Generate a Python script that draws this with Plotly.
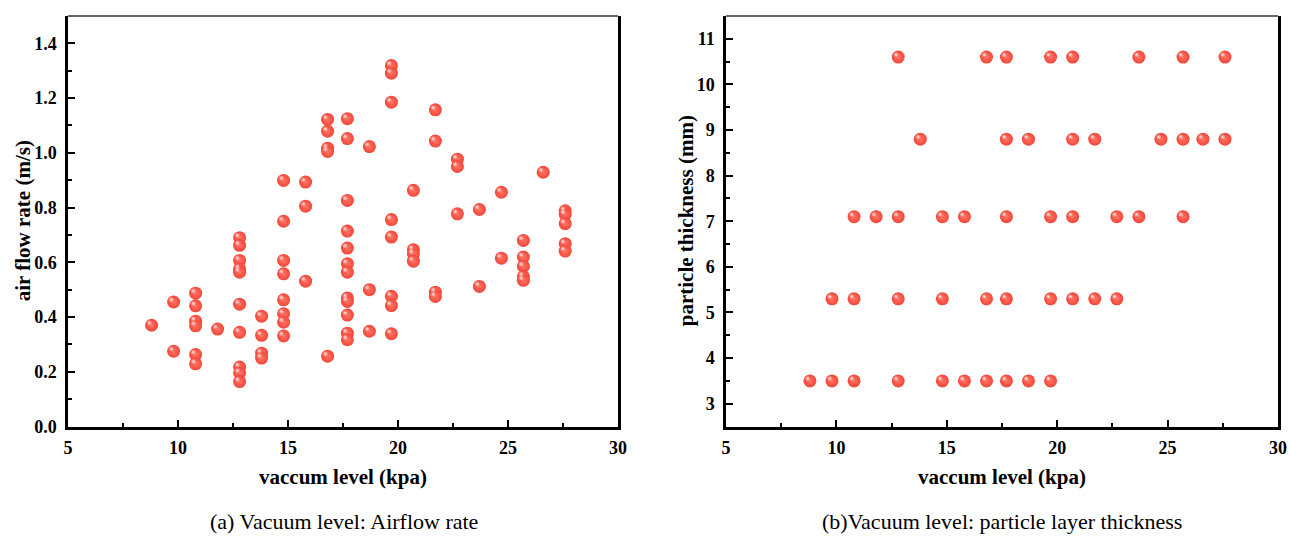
import plotly.graph_objects as go

# ---- data: (a) vacuum level vs air flow rate ----
vac_a = ([8.8] + [9.8] * 2 + [10.8] * 6 + [11.8] + [12.8] * 10 + [13.8] * 4 +
         [14.8] * 8 + [15.8] * 3 + [16.8] * 5 + [17.7] * 12 + [18.7] * 3 +
         [19.7] * 8 + [20.7] * 4 + [21.7] * 4 + [22.7] * 3 + [23.7] * 2 +
         [24.7] * 2 + [25.7] * 5 + [26.6] + [27.6] * 5)
airflow = [0.37,
           0.455, 0.275,
           0.487, 0.441, 0.385, 0.368, 0.263, 0.229,
           0.356,
           0.69, 0.662, 0.607, 0.576, 0.564, 0.447, 0.344, 0.217, 0.196, 0.164,
           0.403, 0.333, 0.268, 0.25,
           0.899, 0.75, 0.607, 0.558, 0.463, 0.412, 0.381, 0.331,
           0.893, 0.805, 0.531,
           1.122, 1.079, 1.017, 1.005, 0.257,
           1.125, 1.052, 0.826, 0.714, 0.652, 0.595, 0.564, 0.47, 0.457, 0.407, 0.341, 0.317,
           1.023, 0.5, 0.348,
           1.319, 1.291, 1.185, 0.756, 0.692, 0.476, 0.442, 0.339,
           0.863, 0.646, 0.631, 0.604,
           1.157, 1.043, 0.491, 0.475,
           0.977, 0.95, 0.777,
           0.793, 0.512,
           0.856, 0.615,
           0.68, 0.619, 0.585, 0.548, 0.534,
           0.929,
           0.788, 0.775, 0.741, 0.668, 0.641]

# ---- data: (b) vacuum level vs particle layer thickness ----
vac_106 = [12.8, 16.8, 17.7, 19.7, 20.7, 23.7, 25.7, 27.6]
vac_88 = [13.8, 17.7, 18.7, 20.7, 21.7, 24.7, 25.7, 26.6, 27.6]
vac_71 = [10.8, 11.8, 12.8, 14.8, 15.8, 17.7, 19.7, 20.7, 22.7, 23.7, 25.7]
vac_53 = [9.8, 10.8, 12.8, 14.8, 16.8, 17.7, 19.7, 20.7, 21.7, 22.7]
vac_35 = [8.8, 9.8, 10.8, 12.8, 14.8, 15.8, 16.8, 17.7, 18.7, 19.7]

vac_b = vac_106 + vac_88 + vac_71 + vac_53 + vac_35
thickness = ([10.6] * len(vac_106) + [8.8] * len(vac_88) + [7.1] * len(vac_71) +
             [5.3] * len(vac_53) + [3.5] * len(vac_35))

# axis settings
x_range = [5, 30]
ya_range = [0, 1.5]
yb_range = [2.5, 11.5]

W, H = 1290, 538
dom_xa = [68 / W, 618 / W]
dom_xb = [726 / W, 1278 / W]
dom_y = [(H - 426.5) / H, (H - 16) / H]

BALL = "#f34638"
BALL_CENTER = "#ff7466"
SIZE = 13
HL_SHIFT = 2.3  # highlight offset in pixels, up-left


def px_per_unit(dom, rng, total):
    return (dom[1] - dom[0]) * total / (rng[1] - rng[0])


def balls(xs, ys, xaxis, yaxis, dom_x, rng_x, rng_y):
    kx = px_per_unit(dom_x, rng_x, W)
    ky = px_per_unit(dom_y, rng_y, H)
    body = go.Scatter(
        x=xs, y=ys, mode="markers", xaxis=xaxis, yaxis=yaxis,
        marker=dict(size=SIZE, color=BALL, line=dict(width=0),
                    gradient=dict(type="radial", color=BALL_CENTER)),
        hoverinfo="x+y", showlegend=False)
    shine = go.Scatter(
        x=[v - HL_SHIFT / kx for v in xs], y=[v + HL_SHIFT / ky for v in ys],
        mode="markers", xaxis=xaxis, yaxis=yaxis,
        marker=dict(size=6, color="rgba(255,200,195,0)", line=dict(width=0),
                    gradient=dict(type="radial", color="rgba(255,255,255,0.95)")),
        hoverinfo="skip", showlegend=False)
    return [body, shine]


fig = go.Figure()
for t in balls(vac_a, airflow, "x", "y", dom_xa, x_range, ya_range):
    fig.add_trace(t)
for t in balls(vac_b, thickness, "x2", "y2", dom_xb, x_range, yb_range):
    fig.add_trace(t)

tick_font = dict(family="Liberation Serif", size=18, color="black")
title_font = dict(family="Liberation Serif", size=21, color="black")
caption_font = dict(family="Liberation Serif", size=22, color="black")


def xaxis_cfg(dom, anchor):
    return dict(domain=dom, anchor=anchor, range=x_range, dtick=5, tick0=5,
                automargin=False,
                showline=True, linewidth=2.5, linecolor="black", mirror=False,
                ticks="inside", ticklen=7, tickwidth=2, tickcolor="black",
                minor=dict(dtick=2.5, tick0=5, ticks="inside", ticklen=4,
                           tickwidth=2, tickcolor="black", showgrid=False),
                showgrid=False, zeroline=False, tickfont=tick_font,
                tickprefix="<b>", ticksuffix="</b>", ticklabelstandoff=3)


def yaxis_cfg(anchor, rng, dtick, fmt, minor):
    return dict(domain=dom_y, anchor=anchor, range=rng, dtick=dtick,
                tick0=0 if rng[0] == 0 else 3, tickformat=fmt, automargin=False,
                showline=True, linewidth=2.5, linecolor="black", mirror=True,
                ticks="inside", ticklen=7, tickwidth=2, tickcolor="black",
                minor=dict(dtick=minor, ticks="inside", ticklen=4, tickwidth=2,
                           tickcolor="black", showgrid=False),
                showgrid=False, zeroline=False, tickfont=tick_font,
                tickprefix="<b>", ticksuffix="</b>", ticklabelstandoff=5)


fig.update_layout(
    width=W, height=H, margin=dict(l=0, r=0, t=0, b=0, pad=0, autoexpand=False),
    paper_bgcolor="white", plot_bgcolor="white",
    xaxis=xaxis_cfg(dom_xa, "y"),
    yaxis=yaxis_cfg("x", ya_range, 0.2, ".1f", 0.1),
    xaxis2=xaxis_cfg(dom_xb, "y2"),
    yaxis2=yaxis_cfg("x2", yb_range, 1, "d", 0.5),
)

# thin top border for both panels
for dom in (dom_xa, dom_xb):
    fig.add_shape(type="line", xref="paper", yref="paper",
                  x0=dom[0], x1=dom[1], y0=dom_y[1], y1=dom_y[1],
                  line=dict(color="#333333", width=1.3))

annotations = [
    dict(text="<b>vaccum level (kpa)</b>", x=(dom_xa[0] + dom_xa[1]) / 2, y=1 - 477 / H,
         font=title_font),
    dict(text="<b>vaccum level (kpa)</b>", x=(dom_xb[0] + dom_xb[1]) / 2, y=1 - 477 / H,
         font=title_font),
    dict(text="<b>air flow rate (m/s)</b>", x=23 / W, y=(dom_y[0] + dom_y[1]) / 2,
         font=title_font, textangle=-90),
    dict(text="<b>particle thickness (mm)</b>", x=686 / W, y=(dom_y[0] + dom_y[1]) / 2,
         font=title_font, textangle=-90),
    dict(text="(a) Vacuum level: Airflow rate", x=344 / W, y=1 - 521 / H,
         font=caption_font),
    dict(text="(b)Vacuum level: particle layer thickness", x=1002 / W, y=1 - 521 / H,
         font=caption_font),
]
for a in annotations:
    fig.add_annotation(xref="paper", yref="paper", showarrow=False,
                       xanchor="center", yanchor="middle", **a)

fig.write_html("out.html")
